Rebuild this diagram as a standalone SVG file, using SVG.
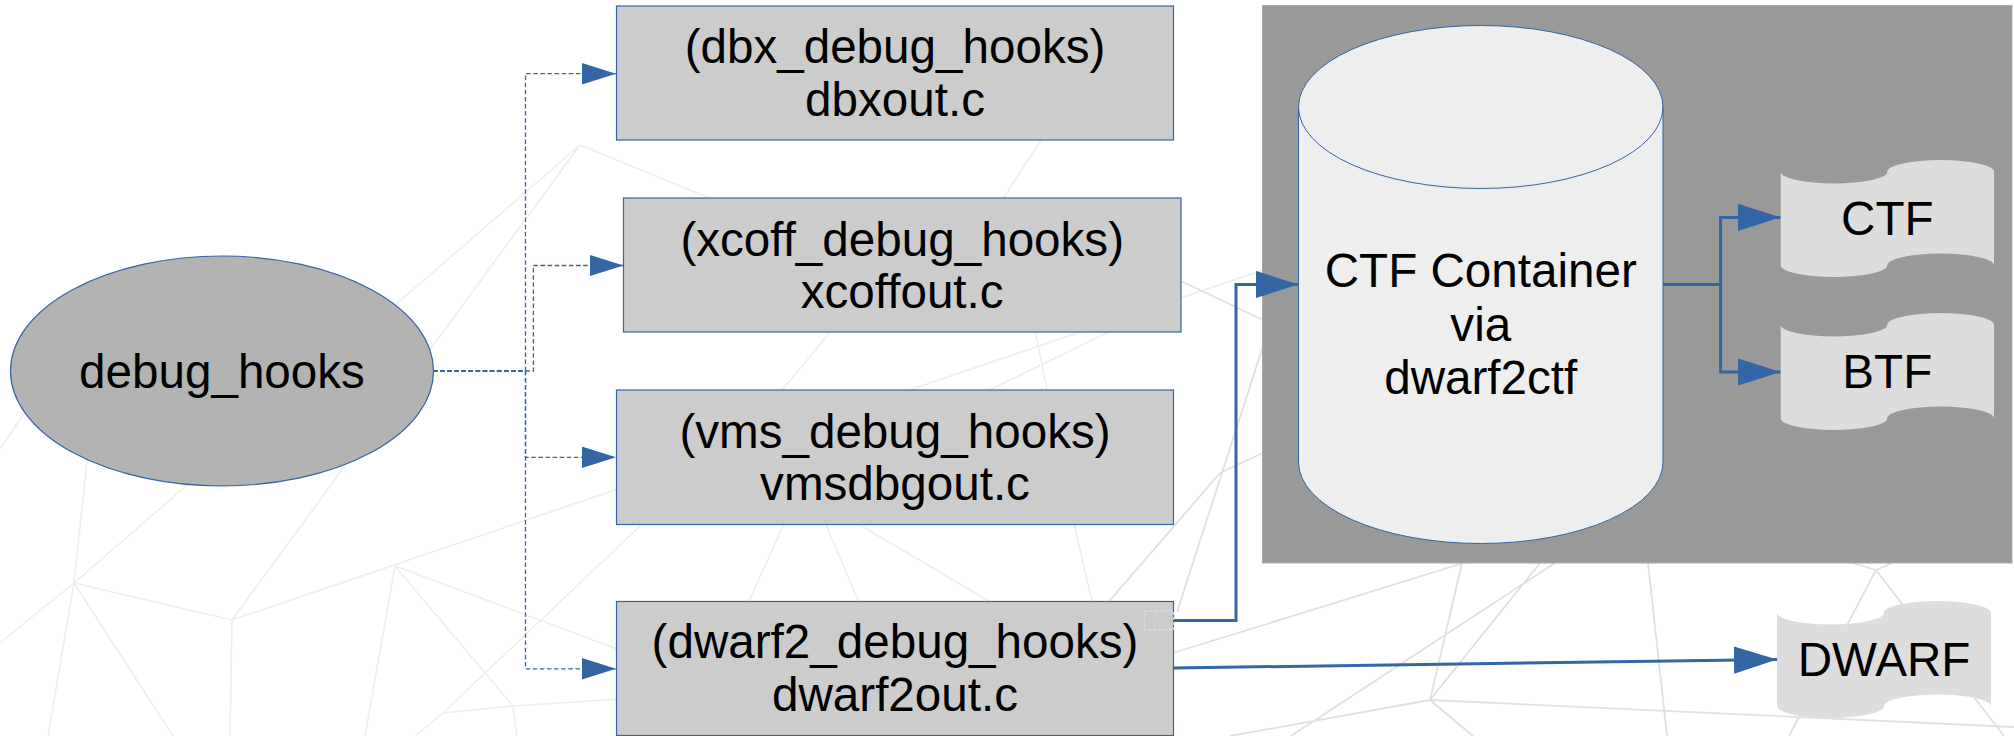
<svg xmlns="http://www.w3.org/2000/svg" width="2014" height="736" viewBox="0 0 2014 736">
<style>
  .mesh { stroke: #eeeeee; stroke-width: 1.6; fill: none; }
  .mesh2 { stroke: #e0e0e0; stroke-width: 1.8; fill: none; }
  .lbl { font-family: "Liberation Sans", Arial, sans-serif; font-size: 47.6px; fill: #000; text-anchor: middle; }
  .box { fill: #cccccc; stroke: #3465a4; stroke-width: 1.2; }
  .flag { fill: #dddddd; stroke: none; }
  .dash { fill: none; stroke: #3465a4; stroke-width: 1.3; stroke-dasharray: 4.5 2.6; }
  .thick { fill: none; stroke: #3465a4; stroke-width: 3; }
</style>
<defs>
  <marker id="arrS" markerUnits="userSpaceOnUse" markerWidth="34" markerHeight="22" refX="34" refY="10.7" orient="auto">
    <path d="M0,0 L34,10.7 L0,21.4 Z" fill="#3465a4"/>
  </marker>
  <marker id="arrL" markerUnits="userSpaceOnUse" markerWidth="43" markerHeight="28" refX="43" refY="13.7" orient="auto">
    <path d="M0,0 L43,13.7 L0,27.4 Z" fill="#3465a4"/>
  </marker>
</defs>
<rect x="0" y="0" width="2014" height="736" fill="#ffffff"/>
<g id="background-mesh">
  <path class="mesh" d="M74,583 L580,145 M232,620 L580,145 M74,583 L232,620 M232,620 L1263,270 M74,583 L0,643 M74,583 L48,736 M74,583 L173,736 M232,620 L230,736 M74,583 L100,340 M0,449 L60,360 M395,566 L365,736 M395,566 L513,706 M395,566 L700,680 M415,736 L443,713 L640,526 M443,713 L513,706 M513,706 L700,694 M513,706 L517,736 M580,145 L900,276 M857,300 L757,420 M1029,300 L1053,420 M1160,307 L940,414 M1054,120 L999,205 M788,515 L745,610 M822,515 L862,610 M843,515 L1004,610 M1072,515 L1094,610"/>
  <path class="mesh2" d="M1105,606 L1220,473 L1265,452 M1177,612 L1265,340 M1173,653 L1470,561 M1181,281 L1263,320 M1430,700 L1462,563 M1430,700 L1540,563 M1430,700 L1230,736 M1430,700 L2014,727 M1430,700 L1473,736 M1291,736 L1555,563 M1648,563 L1667,736 M1876,570 L1789,736 M1876,570 L2004,736 M1876,570 L1853,563 M1876,570 L1892,563"/>
</g>
<g id="panel">
  <rect x="1262.5" y="5.5" width="749.5" height="557.5" fill="#999999" stroke="#aaaaaa" stroke-width="1"/>
</g>
<g id="connectors">
  <path class="dash" d="M433,371 H525.5 V73.7 H616" marker-end="url(#arrS)"/>
  <path class="dash" d="M433,371 H533.4 V265.5 H623.5" marker-end="url(#arrS)"/>
  <path class="dash" d="M433,371 H525.5 V457.3 H616" marker-end="url(#arrS)"/>
  <path class="dash" d="M433,371 H525.5 V668.8 H616" marker-end="url(#arrS)"/>
  <path class="thick" d="M1173.7,620.5 H1236 V284.5 H1298.5" marker-end="url(#arrL)"/>
  <path class="thick" d="M1663,284.5 H1720.6 V217.4 H1780.7" marker-end="url(#arrL)"/>
  <path class="thick" d="M1720.6,284.5 V372 H1780.7" marker-end="url(#arrL)"/>
  <path class="thick" d="M1173.7,668 L1777,659.5" marker-end="url(#arrL)"/>
</g>
<g id="debug_hooks">
  <ellipse cx="222" cy="371" rx="211.5" ry="115" fill="#b3b3b3" stroke="#3465a4" stroke-width="1.2"/>
  <text class="lbl" x="222" y="387.5">debug_hooks</text>
</g>
<g id="dbx">
  <rect class="box" x="616.5" y="6" width="557" height="134"/>
  <text class="lbl" x="895" y="63">(dbx_debug_hooks)</text>
  <text class="lbl" x="895" y="116.2">dbxout.c</text>
</g>
<g id="xcoff">
  <rect class="box" x="623.5" y="198" width="557.5" height="134"/>
  <text class="lbl" x="902.2" y="255.5">(xcoff_debug_hooks)</text>
  <text class="lbl" x="902.2" y="308">xcoffout.c</text>
</g>
<g id="vms">
  <rect class="box" x="616.5" y="390" width="557" height="134.5"/>
  <text class="lbl" x="895" y="447.5">(vms_debug_hooks)</text>
  <text class="lbl" x="895" y="500.3">vmsdbgout.c</text>
</g>
<g id="dwarf2">
  <rect class="box" x="616.5" y="601.5" width="557" height="134"/>
  <rect x="1144.3" y="611" width="29" height="19" fill="none" stroke="#e4e4e4" stroke-width="1" stroke-dasharray="3 2"/>
  <text class="lbl" x="895" y="658">(dwarf2_debug_hooks)</text>
  <text class="lbl" x="895" y="711">dwarf2out.c</text>
</g>
<g id="ctf_container">
  <path d="M1298.5,107 A182.25,81.5 0 0 1 1663,107 V462 A182.25,81.5 0 0 1 1298.5,462 Z" fill="#eeeeee" stroke="#3465a4" stroke-width="1"/>
  <path d="M1298.5,107 A182.25,81.5 0 0 0 1663,107" fill="none" stroke="#3465a4" stroke-width="1"/>
  <text class="lbl" x="1480.75" y="287">CTF Container</text>
  <text class="lbl" x="1480.75" y="340.5">via</text>
  <text class="lbl" x="1480.75" y="394">dwarf2ctf</text>
</g>
<g id="ctf">
  <path class="flag" d="M1780.7,171.7 A53.3,11.7 0 0 0 1887.3,171.7 A53.3,11.7 0 0 1 1994,171.7 L1994,265.3 A53.3,11.7 0 0 0 1887.3,265.3 A53.3,11.7 0 0 1 1780.7,265.3 Z"/>
  <text class="lbl" x="1887.3" y="235">CTF</text>
</g>
<g id="btf">
  <path class="flag" d="M1780.7,324.7 A53.3,11.7 0 0 0 1887.3,324.7 A53.3,11.7 0 0 1 1994,324.7 L1994,418.3 A53.3,11.7 0 0 0 1887.3,418.3 A53.3,11.7 0 0 1 1780.7,418.3 Z"/>
  <text class="lbl" x="1887.3" y="388">BTF</text>
</g>
<g id="dwarf">
  <path class="flag" d="M1777,612.7 A53.5,11.7 0 0 0 1884,612.7 A53.5,11.7 0 0 1 1991,612.7 L1991,706.3 A53.5,11.7 0 0 0 1884,706.3 A53.5,11.7 0 0 1 1777,706.3 Z"/>
  <text class="lbl" x="1884" y="676">DWARF</text>
</g>
</svg>
